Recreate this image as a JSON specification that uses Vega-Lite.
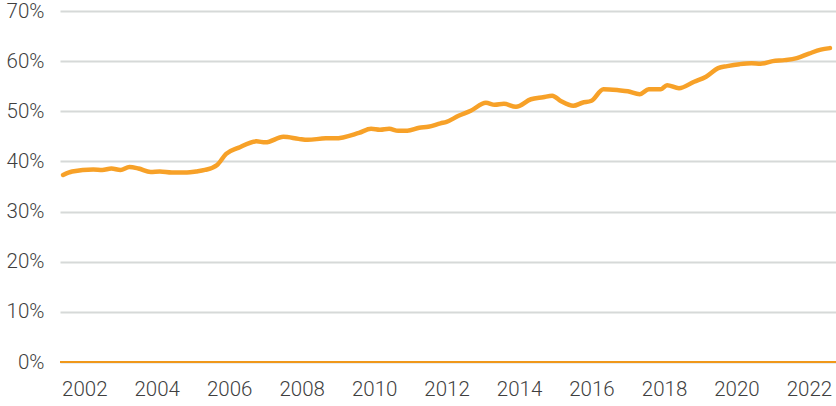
{
  "$schema": "https://vega.github.io/schema/vega-lite/v6.json",
  "autosize": "none",
  "width": 776,
  "height": 351,
  "padding": {"left": 60, "top": 11, "right": 0, "bottom": 44},
  "background": "white",
  "config": {
    "view": {"stroke": null},
    "font": "Roboto",
    "axis": {"labelFont": "Roboto", "labelFontSize": 20.5, "labelColor": "#3f3f3f", "labelFontWeight": 300}
  },
  "layer": [
    {
      "data": {"values": [
        {"date": "2001-06-01", "share": 37.3},
        {"date": "2001-09-01", "share": 38.0},
        {"date": "2002-04-01", "share": 38.4},
        {"date": "2002-07-01", "share": 38.3},
        {"date": "2002-10-01", "share": 38.6},
        {"date": "2003-01-01", "share": 38.3},
        {"date": "2003-04-01", "share": 38.9},
        {"date": "2003-07-01", "share": 38.6},
        {"date": "2003-11-01", "share": 37.9},
        {"date": "2004-02-01", "share": 38.0},
        {"date": "2004-06-01", "share": 37.8},
        {"date": "2004-11-01", "share": 37.8},
        {"date": "2005-02-01", "share": 38.0},
        {"date": "2005-05-01", "share": 38.3},
        {"date": "2005-09-01", "share": 39.3},
        {"date": "2005-12-01", "share": 41.5},
        {"date": "2006-04-01", "share": 42.7},
        {"date": "2006-10-01", "share": 44.0},
        {"date": "2007-01-01", "share": 43.8},
        {"date": "2007-07-01", "share": 44.9},
        {"date": "2007-12-01", "share": 44.5},
        {"date": "2008-03-01", "share": 44.3},
        {"date": "2008-09-01", "share": 44.6},
        {"date": "2008-12-01", "share": 44.6},
        {"date": "2009-08-01", "share": 45.7},
        {"date": "2009-12-01", "share": 46.5},
        {"date": "2010-03-01", "share": 46.3},
        {"date": "2010-06-01", "share": 46.5},
        {"date": "2010-09-01", "share": 46.1},
        {"date": "2010-12-01", "share": 46.1},
        {"date": "2011-04-01", "share": 46.7},
        {"date": "2011-07-01", "share": 46.9},
        {"date": "2011-11-01", "share": 47.6},
        {"date": "2012-01-01", "share": 47.9},
        {"date": "2012-05-01", "share": 49.1},
        {"date": "2012-09-01", "share": 50.1},
        {"date": "2013-02-01", "share": 51.7},
        {"date": "2013-05-01", "share": 51.3},
        {"date": "2013-08-01", "share": 51.5},
        {"date": "2013-12-01", "share": 50.9},
        {"date": "2014-05-01", "share": 52.4},
        {"date": "2014-09-01", "share": 52.8},
        {"date": "2014-12-01", "share": 53.1},
        {"date": "2015-03-01", "share": 52.0},
        {"date": "2015-07-01", "share": 51.1},
        {"date": "2015-10-01", "share": 51.7},
        {"date": "2016-01-01", "share": 52.1},
        {"date": "2016-05-01", "share": 54.4},
        {"date": "2016-10-01", "share": 54.2},
        {"date": "2017-01-01", "share": 54.0},
        {"date": "2017-05-01", "share": 53.4},
        {"date": "2017-08-01", "share": 54.4},
        {"date": "2017-12-01", "share": 54.4},
        {"date": "2018-02-01", "share": 55.2},
        {"date": "2018-06-01", "share": 54.6},
        {"date": "2018-11-01", "share": 55.9},
        {"date": "2019-03-01", "share": 56.9},
        {"date": "2019-07-01", "share": 58.6},
        {"date": "2019-10-01", "share": 59.0},
        {"date": "2020-02-01", "share": 59.4},
        {"date": "2020-06-01", "share": 59.6},
        {"date": "2020-09-01", "share": 59.5},
        {"date": "2021-01-01", "share": 60.0},
        {"date": "2021-05-01", "share": 60.2},
        {"date": "2021-09-01", "share": 60.6},
        {"date": "2022-01-01", "share": 61.5},
        {"date": "2022-05-01", "share": 62.3},
        {"date": "2022-08-01", "share": 62.6}
      ]},
      "mark": {"type": "line", "color": "#f7a128", "strokeWidth": 4.5, "strokeCap": "round", "strokeJoin": "round", "interpolate": "monotone"},
      "encoding": {
        "x": {
          "field": "date", "type": "temporal",
          "scale": {"type": "utc", "domain": ["2001-05-01", "2022-10-01"]},
          "axis": {
            "title": null, "grid": false, "domain": false, "ticks": false,
            "format": "%Y", "labelPadding": 17,
            "values": [
              {"year": 2002, "utc": true}, {"year": 2004, "utc": true}, {"year": 2006, "utc": true},
              {"year": 2008, "utc": true}, {"year": 2010, "utc": true}, {"year": 2012, "utc": true},
              {"year": 2014, "utc": true}, {"year": 2016, "utc": true}, {"year": 2018, "utc": true},
              {"year": 2020, "utc": true}, {"year": 2022, "utc": true}
            ]
          }
        },
        "y": {
          "field": "share", "type": "quantitative",
          "scale": {"domain": [0, 70]},
          "axis": {
            "title": null, "domain": false, "ticks": false,
            "values": [0, 10, 20, 30, 40, 50, 60, 70],
            "labelExpr": "datum.value + '%'",
            "labelPadding": 16,
            "gridColor": "#d6d9d8", "gridWidth": 2
          }
        }
      }
    },
    {
      "data": {"values": [{"zero": 0}]},
      "mark": {"type": "rule", "color": "#f0981a", "strokeWidth": 2},
      "encoding": {"y": {"field": "zero", "type": "quantitative"}}
    }
  ]
}
